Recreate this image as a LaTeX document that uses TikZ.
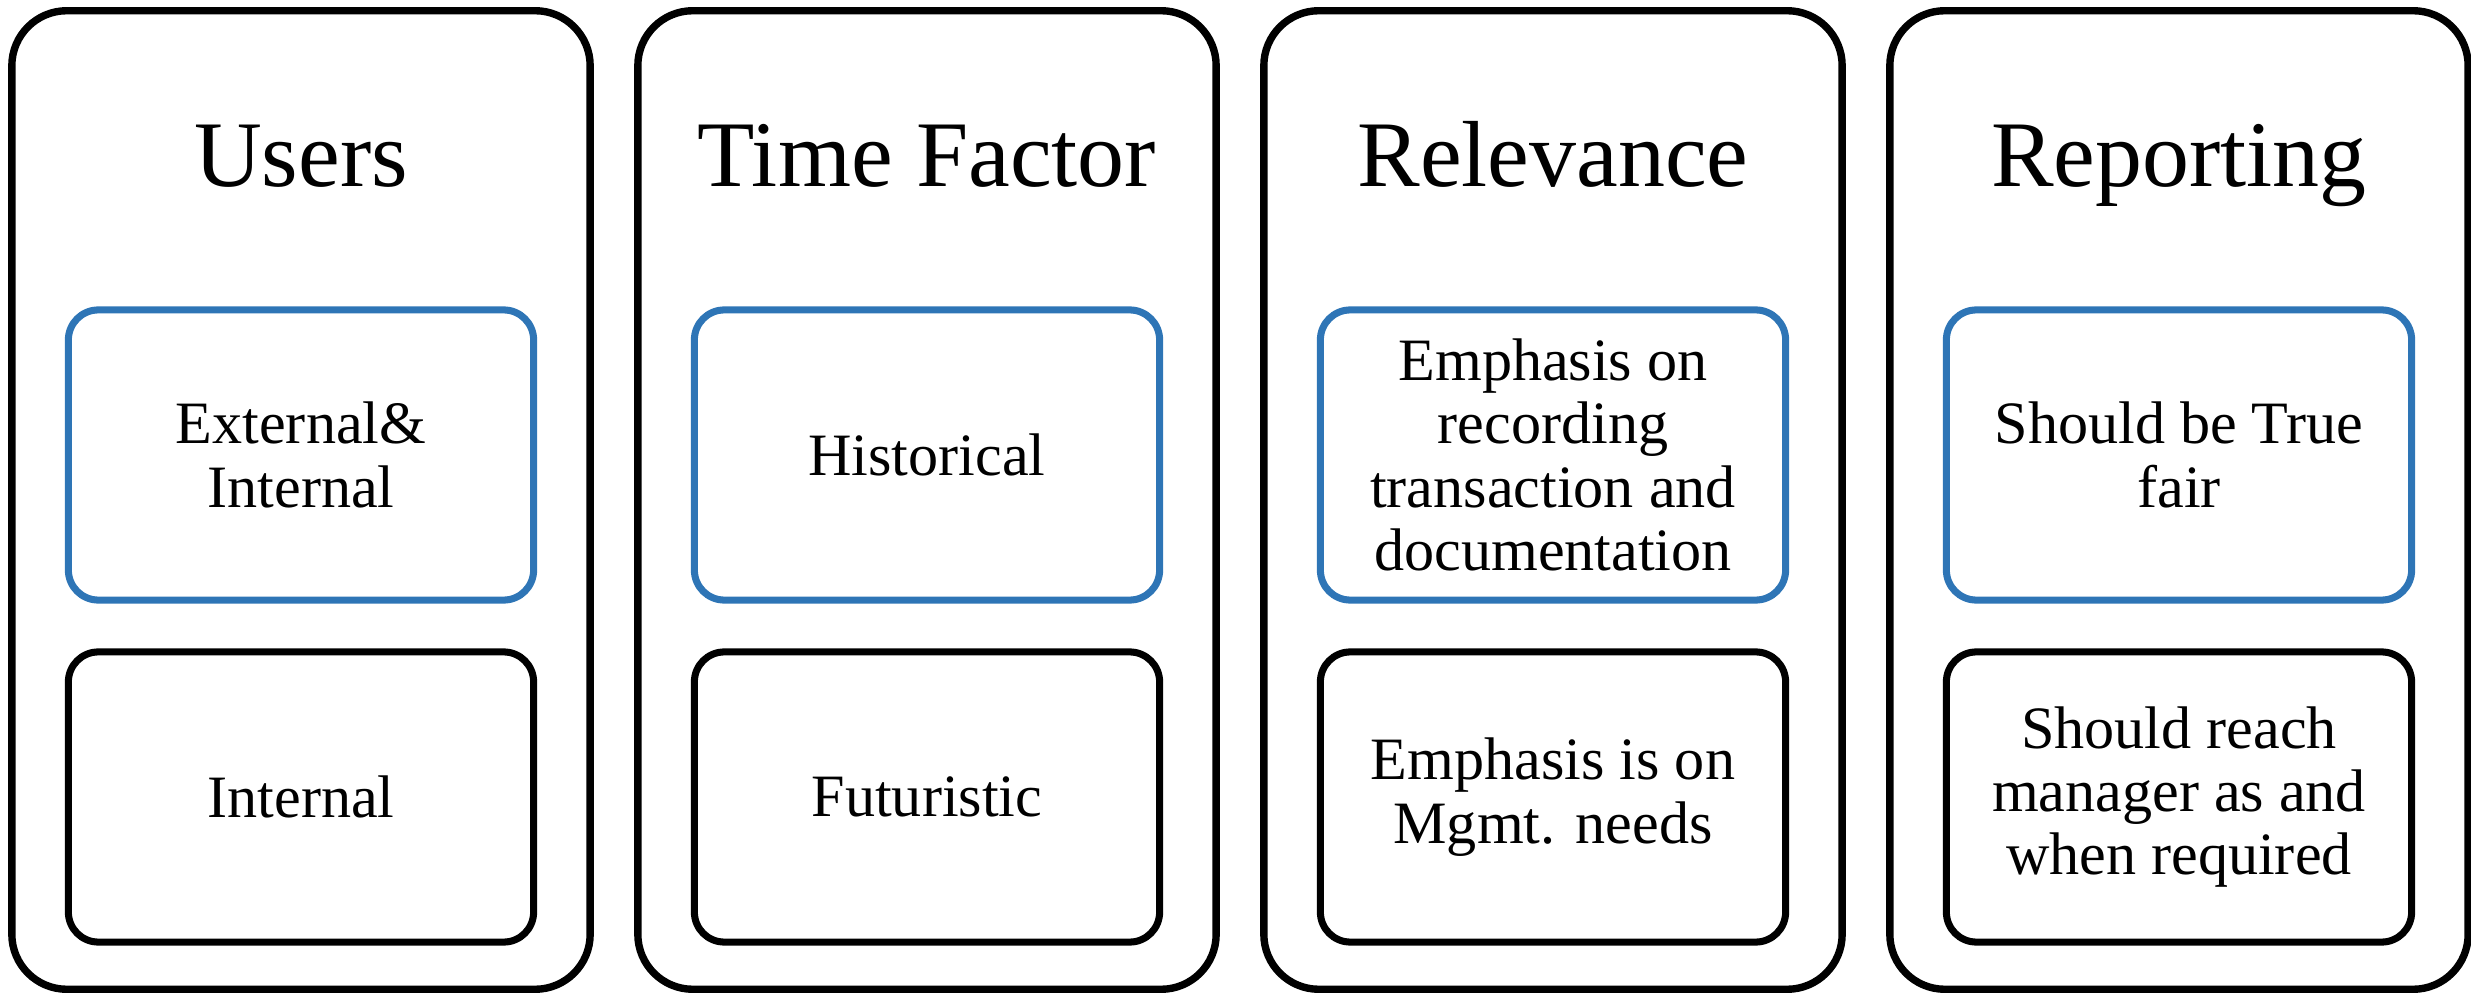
\documentclass[tikz,border=0pt]{standalone}
\usepackage{fontspec}
\setmainfont{Liberation Serif}
\usepackage{tikz}
\definecolor{boxblue}{RGB}{46,117,182}

\begin{document}
\begin{tikzpicture}[x=0.01cm,y=-0.01cm,
    panel/.style={draw,rounded corners=0.55cm,line width=2.1pt,minimum width=5.78cm,minimum height=9.78cm},
    cell/.style={draw,rounded corners=0.3cm,line width=2pt,minimum width=4.65cm,minimum height=2.9cm,
      align=center,font=\fontsize{17.1}{18}\selectfont},
    heading/.style={anchor=base,font=\fontsize{26.7}{32}\selectfont}]
    \useasboundingbox (0,0) rectangle (2471,997);
    \foreach \i/\head/\upper/\lower in {
      0/Users/{External\&\\Internal}/{Internal},
      1/Time Factor/{Historical}/{Futuristic},
      2/Relevance/{Emphasis on\\recording\\transaction and\\documentation}/{Emphasis is on\\Mgmt. needs},
      3/Reporting/{Should be True\\fair}/{Should reach\\manager as and\\when required}}{
    \node[panel] (col\i) at (301+626*\i,500) {};
    \node[heading] (head\i) at (301+626*\i,187) {\head};
    \node[cell,draw=boxblue] (up\i) at (301+626*\i,455) {\upper};
    \node[cell] (low\i) at (301+626*\i,797) {\lower};
    }
\end{tikzpicture}
\end{document}
